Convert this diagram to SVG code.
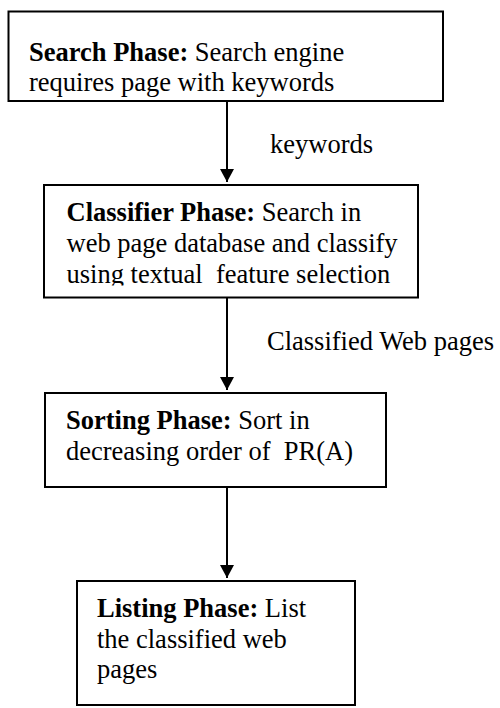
<svg xmlns="http://www.w3.org/2000/svg" width="500" height="708" viewBox="0 0 500 708">
  <style>
    .box { fill: #fff; stroke: #000; stroke-width: 2; }
    .txt { font-family: "Liberation Serif", "Times New Roman", serif; font-size: 26.5px; fill: #000; }
    .b { font-weight: bold; }
    .wire { stroke: #000; stroke-width: 2; fill: none; }
  </style>
  <defs>
    <marker id="head" markerWidth="15" markerHeight="14" refX="14" refY="7.5" orient="auto" markerUnits="userSpaceOnUse" viewBox="0 0 14 15">
      <path d="M0,0 L14,7.5 L0,15 Z" fill="#000"/>
    </marker>
    <clipPath id="clipClassifier">
      <rect x="45" y="186" width="372" height="99.5"/>
    </clipPath>
  </defs>
  <rect width="500" height="708" fill="#fff"/>

  <g id="connectors">
    <line class="wire" x1="227" y1="101" x2="227" y2="182" marker-end="url(#head)"/>
    <line class="wire" x1="227" y1="297.5" x2="227" y2="390" marker-end="url(#head)"/>
    <line class="wire" x1="227" y1="487" x2="227" y2="578" marker-end="url(#head)"/>
    <text class="txt" x="270" y="153">keywords</text>
    <text class="txt" x="267" y="350">Classified Web pages</text>
  </g>

  <g id="search">
    <rect class="box" x="8.5" y="11.5" width="434.5" height="89.5"/>
    <text class="txt" x="29" y="61"><tspan class="b">Search Phase:</tspan> Search engine</text>
    <text class="txt" x="29" y="91">requires page with keywords</text>
  </g>

  <g id="classifier">
    <rect class="box" x="44" y="185" width="374" height="112.5"/>
    <g clip-path="url(#clipClassifier)">
      <text class="txt" x="66.5" y="221"><tspan class="b">Classifier Phase:</tspan> Search in</text>
      <text class="txt" x="66.5" y="252">web page database and classify</text>
      <text class="txt" x="66.5" y="283" xml:space="preserve">using textual  feature selection</text>
    </g>
  </g>

  <g id="sorting">
    <rect class="box" x="45" y="393" width="341" height="94"/>
    <text class="txt" x="66" y="429"><tspan class="b">Sorting Phase:</tspan> Sort in</text>
    <text class="txt" x="66" y="460" xml:space="preserve">decreasing order of  PR(A)</text>
  </g>

  <g id="listing">
    <rect class="box" x="77" y="581" width="278" height="124"/>
    <text class="txt" x="97" y="617"><tspan class="b">Listing Phase:</tspan> List</text>
    <text class="txt" x="97" y="648">the classified web</text>
    <text class="txt" x="97" y="678">pages</text>
  </g>
</svg>
